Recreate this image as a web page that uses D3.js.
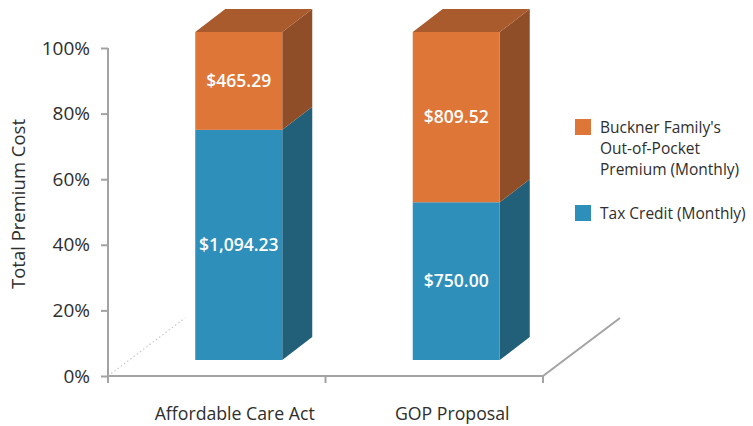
<!DOCTYPE html>
<html>
<head>
<meta charset="utf-8">
<script src="https://cdn.jsdelivr.net/npm/d3@7"></script>
<style>
  html, body { margin: 0; padding: 0; background: #fff; }
  svg { display: block; font-family: "Open Sans", "Noto Sans", sans-serif; }
</style>
</head>
<body>
<svg id="chart" width="753" height="426"></svg>
<script>
// Monthly premium split for the two plans
const categories = ["Affordable Care Act", "GOP Proposal"];
const seriesNames = ["Tax Credit (Monthly)", "Buckner Family's Out-of-Pocket Premium (Monthly)"];
const taxCredit = [1094.23, 750.00];
const outOfPocket = [465.29, 809.52];
const yTicks = [0, 0.2, 0.4, 0.6, 0.8, 1.0];

const colors = {
  credit: { front: "#2e90ba", side: "#22607a", top: "#2a7ea3" },
  pocket: { front: "#de7637", side: "#8f4e28", top: "#a95b2d" }
};

const svg = d3.select("#chart");

// plotting frame (front plane of the floor)
const x0 = 108, x1 = 543;
const y = d3.scaleLinear().domain([0, 1]).range([376, 48]);
const x = d3.scaleBand().domain(categories).range([x0, x1]).paddingInner(0).paddingOuter(0);

// depth of the floor and position of the boxes inside it
const floorDepth = { dx: 77, dy: -58 };
const frontShift = { dx: 22, dy: -16 };
const boxDepth = { dx: 30, dy: -23 };
const barWidth = x.bandwidth() * 0.4;

const axisColor = "#a3a3a3";
const textColor = "#2e2e2e";

// floor: dotted back-left edge and solid right edge
svg.append("line")
  .attr("x1", x0).attr("y1", y(0))
  .attr("x2", x0 + floorDepth.dx).attr("y2", y(0) + floorDepth.dy)
  .attr("stroke", "#c8c8c8").attr("stroke-width", 1.2)
  .attr("stroke-dasharray", "1.5,2.5");
svg.append("line")
  .attr("x1", x1).attr("y1", y(0))
  .attr("x2", x1 + floorDepth.dx).attr("y2", y(0) + floorDepth.dy)
  .attr("stroke", axisColor).attr("stroke-width", 2);

// stacked data as shares of each plan's total premium
const rows = categories.map((c, i) => {
  const total = taxCredit[i] + outOfPocket[i];
  return {
    cat: c,
    segs: [
      { key: "credit", value: taxCredit[i], lo: 0, hi: taxCredit[i] / total },
      { key: "pocket", value: outOfPocket[i], lo: taxCredit[i] / total, hi: 1 }
    ]
  };
});

const fmt = v => "$" + d3.format(",.2f")(v);

const bars = svg.append("g").attr("class", "bars");
rows.forEach(r => {
  const left = x(r.cat) + (x.bandwidth() - barWidth) / 2 + frontShift.dx;
  const right = left + barWidth;
  r.segs.forEach((s, si) => {
    const yt = y(s.hi) + frontShift.dy;
    const yb = y(s.lo) + frontShift.dy;
    const c = colors[s.key];
    const g = bars.append("g");
    // right side face
    g.append("path")
      .attr("d", d3.line()([
        [right, yb], [right + boxDepth.dx, yb + boxDepth.dy],
        [right + boxDepth.dx, yt + boxDepth.dy], [right, yt]
      ]) + "Z")
      .attr("fill", c.side);
    // front face
    g.append("rect")
      .attr("x", left).attr("y", yt)
      .attr("width", barWidth).attr("height", yb - yt)
      .attr("fill", c.front);
    // top face on the uppermost segment
    if (si === r.segs.length - 1) {
      g.append("path")
        .attr("d", d3.line()([
          [left, yt], [left + boxDepth.dx, yt + boxDepth.dy],
          [right + boxDepth.dx, yt + boxDepth.dy], [right, yt]
        ]) + "Z")
        .attr("fill", c.top);
    }
    // value label
    g.append("text")
      .attr("x", left + barWidth / 2)
      .attr("y", (yt + yb) / 2)
      .attr("dy", "0.36em")
      .attr("text-anchor", "middle")
      .attr("fill", "#ffffff")
      .attr("font-size", 17.5)
      .attr("font-weight", 600)
      .text(fmt(s.value));
  });
});

// y axis
const yAxis = d3.axisLeft(y).tickValues(yTicks).tickFormat(d3.format(".0%"))
  .tickSize(7).tickPadding(11);
const ya = svg.append("g").attr("transform", `translate(${x0},0)`).call(yAxis);
ya.select(".domain").remove();
ya.selectAll(".tick line").attr("stroke", axisColor).attr("stroke-width", 2);
ya.selectAll(".tick text").attr("fill", textColor).attr("font-size", 19)
  .attr("font-family", "\"Open Sans\", sans-serif");
svg.append("line")
  .attr("x1", x0).attr("x2", x0).attr("y1", y(1)).attr("y2", y(0) + 7)
  .attr("stroke", axisColor).attr("stroke-width", 2);

// x axis baseline with tick marks at band boundaries
svg.append("line")
  .attr("x1", x0).attr("x2", x1).attr("y1", y(0)).attr("y2", y(0))
  .attr("stroke", axisColor).attr("stroke-width", 2);
const bounds = [x0, x0 + x.bandwidth(), x1];
svg.selectAll(".xtick").data(bounds.slice(1)).join("line")
  .attr("x1", d => d).attr("x2", d => d)
  .attr("y1", y(0)).attr("y2", y(0) + 7)
  .attr("stroke", axisColor).attr("stroke-width", 2);

// category labels
svg.selectAll(".cat").data(categories).join("text")
  .attr("x", d => x(d) + x.bandwidth() / 2 + 18)
  .attr("y", 420)
  .attr("text-anchor", "middle")
  .attr("fill", textColor)
  .attr("font-size", 17.7)
  .text(d => d);

// y axis title
svg.append("text")
  .attr("transform", "translate(25,204) rotate(-90)")
  .attr("text-anchor", "middle")
  .attr("fill", textColor)
  .attr("font-size", 18.5)
  .text("Total Premium Cost");

// legend
const legend = svg.append("g").attr("transform", "translate(575,0)");
const legendItems = [
  { color: colors.pocket.front, lines: ["Buckner Family's", "Out-of-Pocket", "Premium (Monthly)"], top: 119, textY: 127 },
  { color: colors.credit.front, lines: [seriesNames[0]], top: 205, textY: 213 }
];
legendItems.forEach(it => {
  legend.append("rect").attr("x", 0).attr("y", it.top).attr("width", 16).attr("height", 16)
    .attr("fill", it.color);
  const t = legend.append("text").attr("x", 25).attr("y", it.textY)
    .attr("fill", textColor).attr("font-size", 15.5);
  it.lines.forEach((ln, i) => {
    t.append("tspan").attr("x", 25).attr("dy", i === 0 ? "0.36em" : 21).text(ln);
  });
});
</script>
</body>
</html>
